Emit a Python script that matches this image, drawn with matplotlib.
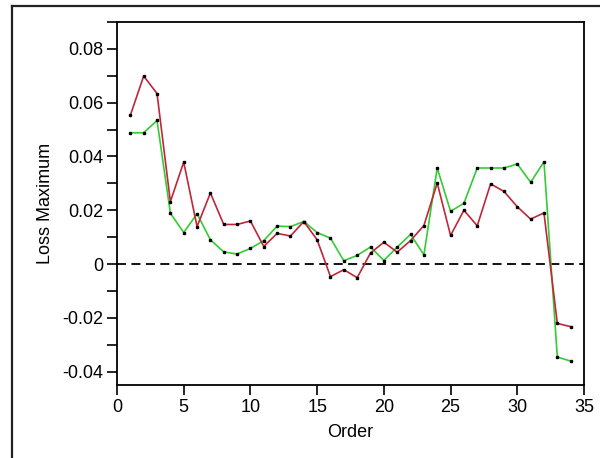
import matplotlib.pyplot as plt
import numpy as np
from matplotlib.lines import Line2D
from matplotlib.ticker import MultipleLocator

plt.rcParams['font.family'] = ['Liberation Sans', 'DejaVu Sans']

order = list(range(1, 35))
loss_red = [0.0553, 0.0699, 0.0634, 0.0232, 0.0379, 0.0139, 0.0264, 0.0147, 0.0147, 0.0160,
            0.0065, 0.0114, 0.0104, 0.0158, 0.0090, -0.0047, -0.0021, -0.0051, 0.0041, 0.0081,
            0.0044, 0.0087, 0.0143, 0.0301, 0.0106, 0.0200, 0.0142, 0.0298, 0.0270, 0.0213,
            0.0167, 0.0190, -0.0221, -0.0233]
loss_green = [0.0488, 0.0488, 0.0534, 0.0189, 0.0117, 0.0187, 0.0090, 0.0045, 0.0037, 0.0058,
              0.0087, 0.0141, 0.0139, 0.0158, 0.0117, 0.0096, 0.0012, 0.0032, 0.0063, 0.0013,
              0.0063, 0.0110, 0.0034, 0.0357, 0.0196, 0.0226, 0.0357, 0.0357, 0.0357, 0.0372,
              0.0304, 0.0380, -0.0346, -0.0361]

fig = plt.figure(figsize=(6, 4.58), dpi=100)
ax = fig.add_axes([117 / 600, 1 - 385 / 458, (584 - 117) / 600, (385 - 22) / 458])

# outer panel frame (top and left edges visible in the screenshot)
fig.add_artist(Line2D([12 / 600, 1], [1 - 6 / 458, 1 - 6 / 458], color='#222222', lw=1.6))
fig.add_artist(Line2D([12 / 600, 12 / 600], [0, 1 - 6 / 458], color='#222222', lw=1.6))

ax.axhline(0, color='black', lw=1.3, ls=(0, (5, 3)), zorder=1)
ax.plot(order, loss_green, color='#33cc33', lw=1.2, zorder=2)
ax.plot(order, loss_red, color='#c0263a', lw=1.2, zorder=3)
ax.plot(order, loss_green, ls='none', marker='s', ms=2.1, color='black', zorder=4)
ax.plot(order, loss_red, ls='none', marker='s', ms=2.1, color='black', zorder=4)

ax.set_xlim(0, 35)
ax.set_ylim(-0.045, 0.09)
ax.set_xticks(range(0, 36, 5))
ax.set_yticks([-0.04, -0.02, 0, 0.02, 0.04, 0.06, 0.08])
ax.set_yticklabels(['-0.04', '-0.02', '0', '0.02', '0.04', '0.06', '0.08'])
ax.yaxis.set_minor_locator(MultipleLocator(0.01))
ax.tick_params(axis='both', which='both', direction='out', length=7, width=1.2,
               labelsize=13, pad=3, colors='black')
ax.tick_params(right=False, top=False)
for s in ax.spines.values():
    s.set_linewidth(1.3)

ax.set_xlabel('Order', fontsize=13, labelpad=6)
ax.set_ylabel('Loss Maximum', fontsize=13, labelpad=6)

fig.savefig('out.png', dpi=100)
